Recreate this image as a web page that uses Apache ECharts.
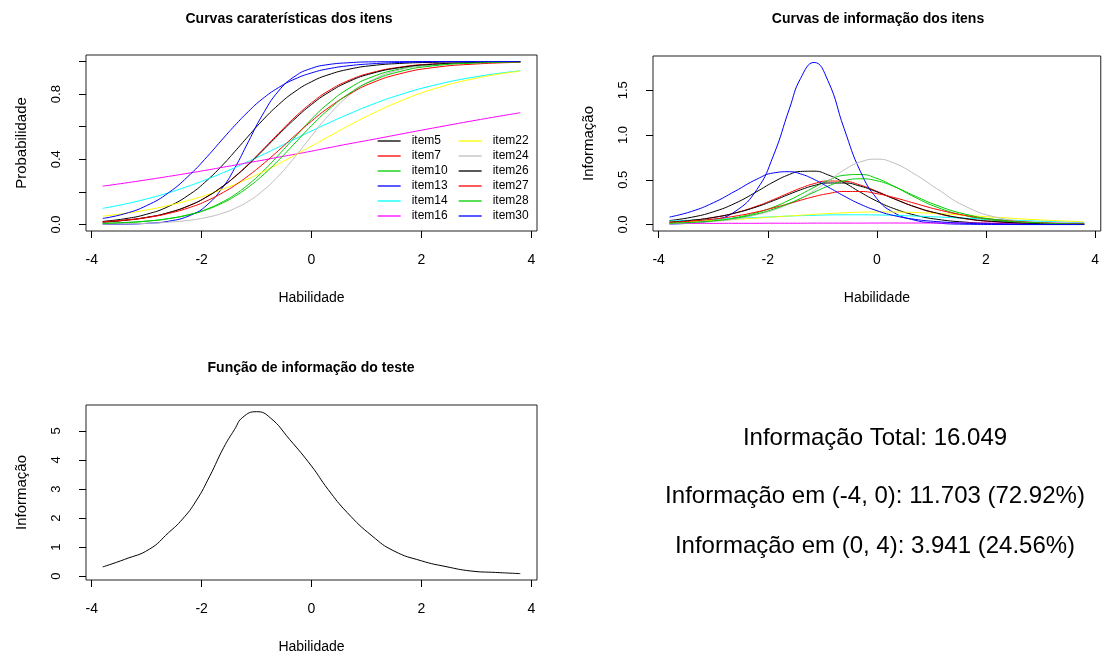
<!DOCTYPE html>
<html>
<head>
<meta charset="utf-8">
<script src="https://cdn.jsdelivr.net/npm/echarts@6.0.0/dist/echarts.min.js"></script>
<style>
  html, body { margin: 0; padding: 0; background: #fff; }
  #main { width: 1102px; height: 658px; }
</style>
</head>
<body>
<div id="main"></div>
<script>
// habilidade (theta) onde as curvas foram lidas
var theta = [-3.8, -3.4, -3.0, -2.6, -2.2, -1.9, -1.6, -1.4, -1.15, -0.9, -0.6, -0.3, 0.0, 0.3, 0.7, 1.1, 1.6, 2.2, 3.0, 3.8];

var itemNames = ['item5', 'item7', 'item10', 'item13', 'item14', 'item16', 'item22', 'item24', 'item26', 'item27', 'item28', 'item30'];

// curvas caracteristicas (probabilidade)
var iccItem5  = [0.019, 0.035, 0.063, 0.111, 0.189, 0.271, 0.371, 0.446, 0.542, 0.636, 0.735, 0.816, 0.876, 0.918, 0.954, 0.975, 0.988, 0.995, 0.999, 1.000];
var iccItem7  = [0.014, 0.025, 0.042, 0.072, 0.119, 0.171, 0.238, 0.293, 0.370, 0.455, 0.559, 0.659, 0.746, 0.818, 0.887, 0.932, 0.965, 0.985, 0.995, 0.998];
var iccItem10 = [0.006, 0.011, 0.020, 0.036, 0.063, 0.095, 0.142, 0.182, 0.245, 0.321, 0.426, 0.537, 0.646, 0.741, 0.839, 0.905, 0.953, 0.980, 0.994, 0.998];
var iccItem13 = [0.001, 0.002, 0.007, 0.020, 0.057, 0.120, 0.235, 0.344, 0.507, 0.668, 0.819, 0.910, 0.958, 0.981, 0.993, 0.998, 0.999, 1.000, 1.000, 1.000];
var iccItem14 = [0.099, 0.125, 0.157, 0.195, 0.240, 0.278, 0.319, 0.348, 0.387, 0.426, 0.475, 0.525, 0.574, 0.621, 0.681, 0.736, 0.795, 0.852, 0.907, 0.943];
var iccItem16 = [0.235, 0.254, 0.274, 0.295, 0.317, 0.334, 0.352, 0.364, 0.379, 0.394, 0.413, 0.431, 0.450, 0.470, 0.496, 0.521, 0.553, 0.591, 0.640, 0.686];
var iccItem22 = [0.051, 0.068, 0.089, 0.117, 0.151, 0.182, 0.218, 0.245, 0.281, 0.321, 0.372, 0.426, 0.481, 0.537, 0.611, 0.679, 0.755, 0.829, 0.898, 0.941];
var iccItem24 = [0.002, 0.004, 0.007, 0.014, 0.027, 0.044, 0.071, 0.098, 0.142, 0.203, 0.298, 0.415, 0.543, 0.665, 0.797, 0.886, 0.948, 0.981, 0.995, 0.999];
var iccItem26 = [0.015, 0.026, 0.044, 0.073, 0.120, 0.171, 0.238, 0.291, 0.366, 0.449, 0.551, 0.649, 0.736, 0.808, 0.880, 0.927, 0.962, 0.983, 0.994, 0.998];
var iccItem27 = [0.017, 0.027, 0.043, 0.068, 0.106, 0.146, 0.198, 0.239, 0.299, 0.366, 0.454, 0.546, 0.634, 0.714, 0.802, 0.869, 0.924, 0.962, 0.985, 0.995];
var iccItem28 = [0.007, 0.012, 0.021, 0.036, 0.062, 0.092, 0.135, 0.172, 0.229, 0.298, 0.394, 0.500, 0.606, 0.702, 0.807, 0.881, 0.938, 0.973, 0.991, 0.997];
var iccItem30 = [0.037, 0.066, 0.116, 0.195, 0.310, 0.416, 0.531, 0.606, 0.693, 0.769, 0.840, 0.893, 0.930, 0.955, 0.975, 0.986, 0.994, 0.998, 0.999, 1.000];

// curvas de informacao dos itens
var infItem5  = [0.045, 0.081, 0.142, 0.237, 0.368, 0.474, 0.560, 0.593, 0.596, 0.556, 0.468, 0.360, 0.261, 0.181, 0.105, 0.059, 0.028, 0.011, 0.003, 0.001];
var infItem7  = [0.027, 0.047, 0.079, 0.130, 0.206, 0.278, 0.356, 0.406, 0.457, 0.486, 0.483, 0.440, 0.371, 0.292, 0.196, 0.124, 0.066, 0.030, 0.010, 0.003];
var infItem10 = [0.014, 0.025, 0.044, 0.077, 0.133, 0.194, 0.274, 0.336, 0.416, 0.490, 0.550, 0.559, 0.515, 0.432, 0.304, 0.194, 0.102, 0.044, 0.014, 0.004];
var infItem13 = [0.006, 0.017, 0.050, 0.145, 0.391, 0.765, 1.300, 1.630, 1.810, 1.610, 1.070, 0.590, 0.290, 0.137, 0.048, 0.017, 0.004, 0.001, 0.000, 0.000];
var infItem14 = [0.039, 0.048, 0.058, 0.068, 0.079, 0.087, 0.095, 0.099, 0.103, 0.107, 0.109, 0.109, 0.107, 0.103, 0.095, 0.085, 0.071, 0.055, 0.037, 0.023];
var infItem16 = [0.012, 0.013, 0.013, 0.014, 0.014, 0.015, 0.015, 0.015, 0.016, 0.016, 0.016, 0.016, 0.017, 0.017, 0.017, 0.017, 0.017, 0.016, 0.015, 0.014];
var infItem22 = [0.027, 0.035, 0.046, 0.058, 0.072, 0.084, 0.096, 0.104, 0.114, 0.123, 0.131, 0.138, 0.141, 0.140, 0.134, 0.123, 0.104, 0.080, 0.052, 0.031];
var infItem24 = [0.010, 0.020, 0.035, 0.060, 0.110, 0.160, 0.230, 0.290, 0.380, 0.480, 0.610, 0.700, 0.730, 0.690, 0.560, 0.400, 0.210, 0.080, 0.020, 0.005];
var infItem26 = [0.028, 0.047, 0.079, 0.128, 0.198, 0.266, 0.340, 0.387, 0.436, 0.464, 0.464, 0.428, 0.365, 0.291, 0.198, 0.128, 0.069, 0.032, 0.011, 0.004];
var infItem27 = [0.024, 0.039, 0.061, 0.094, 0.141, 0.186, 0.236, 0.271, 0.312, 0.345, 0.369, 0.369, 0.345, 0.304, 0.236, 0.169, 0.104, 0.054, 0.021, 0.008];
var infItem28 = [0.014, 0.024, 0.041, 0.071, 0.119, 0.171, 0.239, 0.291, 0.361, 0.428, 0.489, 0.511, 0.489, 0.428, 0.318, 0.214, 0.119, 0.054, 0.018, 0.006];
var infItem30 = [0.084, 0.146, 0.243, 0.372, 0.507, 0.576, 0.590, 0.566, 0.504, 0.421, 0.318, 0.226, 0.155, 0.102, 0.058, 0.033, 0.015, 0.006, 0.002, 0.001];

// funcao de informacao do teste
var testTheta = [-3.8, -3.4, -2.95, -2.6, -2.35, -2.1, -1.85, -1.6, -1.4, -1.25, -1.0, -0.75, -0.4, 0.0, 0.3, 0.65, 1.1, 1.5, 2.0, 2.45, 2.9, 3.35, 3.8];
var testInfo  = [0.32, 0.58, 0.93, 1.50, 1.96, 2.59, 3.45, 4.42, 5.05, 5.47, 5.66, 5.45, 4.71, 3.79, 2.99, 2.19, 1.39, 0.87, 0.53, 0.33, 0.18, 0.13, 0.09];

var xTicks = [-4, -2, 0, 2, 4];
var summaryLines = [
    'Informação Total: 16.049',
    'Informação em (-4, 0): 11.703 (72.92%)',
    'Informação em (0, 4): 3.941 (24.56%)'
];

var iccList = [iccItem5, iccItem7, iccItem10, iccItem13, iccItem14, iccItem16, iccItem22, iccItem24, iccItem26, iccItem27, iccItem28, iccItem30];
var infList = [infItem5, infItem7, infItem10, infItem13, infItem14, infItem16, infItem22, infItem24, infItem26, infItem27, infItem28, infItem30];

// paleta padrao do R
var rColors = ['#000000', '#FF0000', '#00CD00', '#0000FF', '#00FFFF', '#FF00FF', '#FFFF00', '#BEBEBE',
               '#000000', '#FF0000', '#00CD00', '#0000FF'];

var font = "'Liberation Sans', Arial, sans-serif";

function pairs(xs, ys) {
    return xs.map(function (x, i) { return [x, ys[i]]; });
}

function xAxisFor(idx) {
    return {
        type: 'value', gridIndex: idx, min: -4.104, max: 4.104,
        axisLine: { show: false, onZero: false },
        splitLine: { show: false },
        axisTick: { show: true, customValues: xTicks, length: 7, lineStyle: { color: '#000' } },
        axisLabel: { customValues: xTicks, color: '#000', fontSize: 14, margin: 22, fontFamily: font },
        name: 'Habilidade', nameLocation: 'middle', nameGap: 60,
        nameTextStyle: { color: '#000', fontSize: 14, fontFamily: font }
    };
}

function yAxisFor(idx, min, max, ticks, labels, digits, name) {
    return {
        type: 'value', gridIndex: idx, min: min, max: max,
        axisLine: { show: false, onZero: false },
        splitLine: { show: false },
        axisTick: { show: true, customValues: ticks, length: 7, lineStyle: { color: '#000' } },
        axisLabel: {
            customValues: labels, rotate: 90, color: '#000', fontSize: 13, margin: 23, fontFamily: font,
            formatter: function (v) { return v.toFixed(digits); }
        },
        name: name, nameLocation: 'middle', nameGap: 57,
        nameTextStyle: { color: '#000', fontSize: 15, fontFamily: font }
    };
}

var series = [];
itemNames.forEach(function (name, i) {
    series.push({
        name: name, type: 'line', xAxisIndex: 0, yAxisIndex: 0,
        data: pairs(theta, iccList[i]), smooth: true, symbol: 'none',
        lineStyle: { width: 1, color: rColors[i] }, itemStyle: { color: rColors[i] }
    });
});
itemNames.forEach(function (name, i) {
    series.push({
        name: name, type: 'line', xAxisIndex: 1, yAxisIndex: 1,
        data: pairs(theta, infList[i]), smooth: true, symbol: 'none',
        lineStyle: { width: 1, color: rColors[i] }, itemStyle: { color: rColors[i] }
    });
});
series.push({
    name: 'teste', type: 'line', xAxisIndex: 2, yAxisIndex: 2,
    data: pairs(testTheta, testInfo), smooth: true, symbol: 'none',
    lineStyle: { width: 1, color: '#000' }
});

var legendBase = {
    orient: 'vertical', top: 135, padding: 0,
    itemWidth: 23, itemHeight: 10, itemGap: 3,
    selectedMode: false,
    itemStyle: { opacity: 0 },
    lineStyle: { width: 1.3 },
    textStyle: { fontSize: 12, color: '#000', fontFamily: font, padding: [0, 0, 0, 6] }
};

var myChart = echarts.init(document.getElementById('main'));

myChart.setOption({
    animation: false,
    backgroundColor: '#fff',
    textStyle: { fontFamily: font },
    title: [
        { text: 'Curvas caraterísticas dos itens', left: 289, top: 12, textAlign: 'center', padding: 0,
          textStyle: { fontSize: 14, fontWeight: 'bold', color: '#000', fontFamily: font } },
        { text: 'Curvas de informação dos itens', left: 878, top: 12, textAlign: 'center', padding: 0,
          textStyle: { fontSize: 14, fontWeight: 'bold', color: '#000', fontFamily: font } },
        { text: 'Função de informação do teste', left: 311, top: 361, textAlign: 'center', padding: 0,
          textStyle: { fontSize: 14, fontWeight: 'bold', color: '#000', fontFamily: font } }
    ],
    legend: [
        Object.assign({}, legendBase, { left: 377, data: itemNames.slice(0, 6) }),
        Object.assign({}, legendBase, { left: 458, data: itemNames.slice(6) })
    ],
    grid: [
        { left: 86, top: 55, width: 451, height: 176, show: true, borderColor: '#222', borderWidth: 1, backgroundColor: 'transparent' },
        { left: 653, top: 56, width: 451, height: 175, show: true, borderColor: '#222', borderWidth: 1, backgroundColor: 'transparent' },
        { left: 86, top: 405, width: 451, height: 175, show: true, borderColor: '#222', borderWidth: 1, backgroundColor: 'transparent' }
    ],
    xAxis: [xAxisFor(0), xAxisFor(1), xAxisFor(2)],
    yAxis: [
        yAxisFor(0, -0.04, 1.04, [0, 0.2, 0.4, 0.6, 0.8, 1.0], [0, 0.4, 0.8], 1, 'Probabilidade'),
        yAxisFor(1, -0.072, 1.882, [0, 0.5, 1.0, 1.5], [0, 0.5, 1.0, 1.5], 1, 'Informação'),
        yAxisFor(2, -0.13, 5.89, [0, 1, 2, 3, 4, 5], [0, 1, 2, 3, 4, 5], 0, 'Informação')
    ],
    graphic: summaryLines.map(function (t, i) {
        return {
            type: 'text', x: 875, y: [438, 496, 546][i],
            style: { text: t, fill: '#000', font: '24px ' + font, align: 'center', verticalAlign: 'middle',
                     textAlign: 'center', textVerticalAlign: 'middle' }
        };
    }),
    series: series
});

window.addEventListener('resize', function () {
    myChart.resize();
});
</script>
</body>
</html>
